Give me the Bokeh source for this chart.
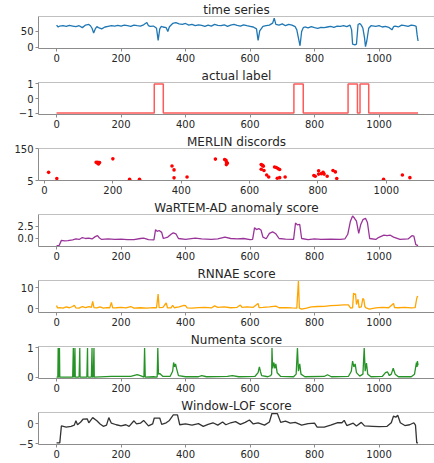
from bokeh.plotting import figure
from bokeh.layouts import column
from bokeh.models import FixedTicker, LinearAxis, Range1d, PrintfTickFormatter
from bokeh.embed import file_html
from bokeh.resources import INLINE

x_ticks = [0, 200, 400, 600, 800, 1000]

ts_data = [(0, 70), (5, 64), (10, 67), (20, 68), (30, 66), (40, 69), (50, 67), (60, 65), (70, 68),
           (80, 62), (90, 70), (100, 72), (105, 68), (110, 60), (115, 45), (120, 58), (125, 65),
           (130, 62), (140, 58), (150, 64), (160, 66), (170, 68), (180, 67), (190, 69), (200, 67),
           (210, 70), (220, 68), (230, 66), (240, 70), (250, 68), (260, 67), (270, 71), (280, 78),
           (285, 68), (290, 66), (300, 67), (305, 64), (310, 60), (315, 22), (320, 58), (325, 66),
           (330, 64), (340, 62), (345, 50), (350, 65), (360, 75), (370, 78), (380, 74), (390, 72),
           (400, 75), (410, 70), (420, 72), (430, 68), (440, 71), (450, 69), (460, 66), (470, 70),
           (480, 67), (490, 72), (500, 69), (510, 68), (520, 71), (530, 66), (540, 70), (550, 72),
           (560, 69), (570, 67), (580, 71), (590, 68), (600, 66), (610, 64), (620, 58), (625, 22),
           (630, 52), (640, 66), (650, 68), (660, 70), (670, 76), (675, 92), (680, 72), (690, 70),
           (700, 74), (710, 68), (720, 72), (730, 70), (740, 65), (745, 55), (750, 30), (755, 5),
           (760, 50), (765, 62), (770, 64), (780, 61), (790, 65), (800, 62), (810, 60), (820, 63),
           (830, 62), (840, 64), (850, 66), (860, 63), (870, 67), (880, 66), (890, 68), (900, 65),
           (910, 70), (915, 55), (918, 10), (925, 8), (930, 10), (935, 72), (940, 75), (945, 70),
           (950, 60), (955, 30), (958, 2), (962, 20), (968, 60), (975, 68), (990, 66), (1000, 68),
           (1010, 64), (1020, 66), (1030, 63), (1040, 55), (1045, 65), (1050, 67), (1060, 64),
           (1070, 70), (1080, 68), (1090, 66), (1100, 70), (1110, 68), (1115, 66), (1118, 40),
           (1121, 20)]

label_length = 1121
label_windows = [(303, 331), (736, 765), (904, 933), (941, 968)]

merlin_x = [12, 36, 151, 154, 158, 161, 156, 200, 249, 278, 373, 379, 379, 417, 500, 527, 531, 533,
            535, 532, 634, 638, 640, 634, 642, 650, 656, 673, 678, 683, 688, 681, 688, 704, 788, 792,
            802, 802, 810, 815, 818, 827, 844, 851, 855, 992, 1047, 1069]
merlin_y = [42, 14, 88, 84, 80, 86, 87, 103, 11, 11, 71, 53, 17, 21, 102, 100, 96, 88,
            83, 77, 77, 74, 70, 56, 50, 30, 21, 66, 64, 59, 55, 15, 18, 21, 28, 24,
            49, 34, 36, 42, 34, 24, 50, 44, 14, 11, 30, 18]

wartem_data = [(0, -1.6), (8, -1.6), (15, -0.5), (25, -0.6), (35, -0.55), (50, -0.4), (60, -0.2),
               (70, -0.3), (80, 0.1), (90, -0.1), (100, 0.0), (110, -0.2), (120, 0.3), (127, 0.5),
               (133, 0.0), (140, -0.3), (160, -0.2), (180, -0.3), (200, -0.25), (220, -0.35),
               (240, -0.35), (260, -0.1), (270, 0.0), (285, -0.35), (302, -0.4), (307, 1.8),
               (312, 1.4), (318, 1.6), (326, 1.2), (331, -0.1), (345, 0.2), (355, 0.8), (362, 1.1),
               (370, 0.9), (378, -0.1), (400, -0.3), (430, 0.0), (450, -0.2), (480, -0.3),
               (500, -0.2), (522, 0.2), (540, -0.1), (560, -0.2), (580, -0.1), (600, -0.35),
               (608, -0.3), (614, 2.2), (620, 1.8), (627, 2.0), (634, 1.7), (640, 0.2), (650, -0.15),
               (660, 1.0), (670, 1.3), (680, 0.9), (690, -0.1), (710, -0.25), (735, -0.3), (741, 3.2),
               (747, 2.8), (754, 2.9), (760, -0.1), (780, -0.35), (800, -0.2), (820, -0.3),
               (850, -0.25), (880, -0.3), (894, -0.2), (903, 0.8), (911, 3.5), (918, 4.7), (924, 4.2),
               (930, 3.6), (937, 1.0), (943, 2.8), (950, 3.9), (958, 4.2), (964, 3.3), (971, -0.1),
               (990, -0.3), (998, 0.1), (1015, 0.6), (1025, 0.5), (1035, 0.6), (1045, 0.2),
               (1065, -0.3), (1090, -0.2), (1102, 0.5), (1108, 0.4), (1114, -1.4), (1121, -1.6)]

rnnae_data = [(0, 1.5), (3, 0.3), (10, 0.5), (20, 0.2), (30, 0.8), (40, 0.4), (50, 1.0), (55, 1.6),
              (60, 0.3), (70, 0.2), (80, 1.0), (90, 0.5), (100, 1.0), (108, 0.6), (112, 3.5),
              (116, 0.5), (125, 0.3), (135, 0.8), (145, 0.2), (155, 0.5), (165, 0.4), (170, 3.0),
              (174, 0.3), (185, 0.4), (200, 0.6), (215, 0.3), (230, 1.0), (240, 0.2), (260, 0.4),
              (280, 0.2), (300, 0.5), (310, 0.4), (315, 7.0), (318, 0.5), (330, 0.6), (340, 2.7),
              (344, 0.4), (355, 0.3), (360, 1.6), (365, 0.4), (380, 0.8), (395, 1.5), (400, 1.4),
              (405, 0.3), (420, 0.2), (440, 0.5), (460, 0.6), (480, 0.3), (490, 1.3), (500, 0.6),
              (520, 0.8), (540, 0.4), (560, 0.6), (570, 1.7), (575, 0.6), (590, 0.8), (610, 0.6),
              (625, 2.5), (628, 0.5), (640, 0.6), (660, 0.8), (680, 1.2), (690, 0.4), (710, 0.5),
              (730, 0.3), (745, 0.2), (750, 13.3), (753, 0.2), (760, -0.3), (775, 0.2), (790, 0.8),
              (810, 1.0), (830, 1.1), (850, 1.4), (870, 1.6), (890, 1.8), (905, 1.8), (912, 0.2),
              (918, 0.4), (921, 7.5), (924, 6.8), (927, 7.2), (930, 2.0), (935, 4.5), (938, 0.5),
              (945, 0.8), (950, 5.0), (953, 4.2), (956, 1.0), (960, 0.3), (970, -0.3), (990, 0.3),
              (1010, 0.6), (1030, 0.4), (1045, 2.5), (1048, 0.5), (1060, 0.4), (1080, 0.6),
              (1100, 0.3), (1112, 0.5), (1117, 5.0), (1119, 5.8), (1121, 6.0)]

numenta_data = [(0, 0), (4, 0), (5, 1), (6, 0), (8, 0), (9, 1), (10, 0),
                (50, 0), (52, 1), (53, 0), (55, 0), (57, 1), (58, 0),
                (70, 0), (72, 1), (73, 0), (94, 0), (96, 1), (97, 0),
                (108, 0), (110, 1), (111, 0), (114, 0), (116, 1), (117, 0),
                (170, 0.02), (230, 0.02), (250, 0.08), (262, 0.04), (271, 0.0), (273, 1), (275, 0),
                (300, 0.01), (312, 0), (314, 1), (316, 0.1), (320, 0.12), (330, 0.02),
                (352, 0.02), (360, 0.2), (363, 0.5), (366, 0.35), (369, 0.45), (372, 0.3), (378, 0.05),
                (400, 0.01), (440, 0.01), (450, 0.05), (465, 0.01), (530, 0.02), (545, 0.05),
                (565, 0.01), (615, 0.02), (625, 0.15), (629, 0.35), (632, 0.2), (636, 0.05),
                (655, 0.01), (664, 0.05), (667, 0.1), (668, 1), (670, 0.3), (674, 0.5), (677, 0.3),
                (680, 0.45), (684, 0.15), (695, 0.02), (735, 0.01), (743, 0.1), (747, 1), (750, 0.2),
                (754, 0.45), (758, 0.1), (770, 0.01), (830, 0.02), (840, 0.08), (852, 0.01),
                (905, 0.02), (914, 0.2), (918, 0.55), (922, 0.35), (926, 0.45), (930, 0.15),
                (940, 0.03), (950, 0.1), (954, 1), (957, 0.2), (961, 0.48), (965, 0.1), (975, 0.01),
                (1010, 0.02), (1020, 0.15), (1026, 0.18), (1032, 0.05), (1038, 0.1), (1044, 0.3),
                (1050, 0.1), (1060, 0.01), (1100, 0.01), (1110, 0.1), (1116, 0.5), (1118, 0.35),
                (1119, 0.55), (1121, 0.4)]

lof_data = [(0, -4.8), (10, -4.8), (15, -0.5), (30, -0.8), (45, -0.6), (55, -0.3), (60, 0.8),
            (65, -0.2), (75, 0.5), (82, 1.2), (95, 1.3), (100, 0.3), (112, 1.6), (125, 0.8),
            (135, 0.0), (145, -0.6), (155, -0.3), (162, 1.6), (170, 0.2), (185, -0.2), (200, -0.5),
            (215, -0.2), (225, -0.6), (240, 0.8), (248, 0.0), (260, 0.2), (270, 0.9), (285, -0.5),
            (298, 0.0), (303, 1.5), (320, 1.5), (326, -0.1), (340, 0.3), (350, 0.9), (362, 2.3),
            (375, 2.3), (382, -0.2), (400, 0.0), (420, -0.3), (440, 0.1), (455, -0.6), (470, -0.1),
            (485, 0.3), (500, -0.3), (515, 0.5), (525, -0.2), (540, 0.3), (555, 0.6), (570, -0.1),
            (585, 0.4), (598, 1.0), (610, 0.0), (625, 0.3), (645, -0.3), (660, 0.5), (668, 2.7),
            (685, 2.6), (695, 0.4), (710, 0.7), (725, 0.2), (740, 0.4), (760, -0.3), (780, 0.1),
            (800, 0.2), (808, -0.8), (830, -0.8), (850, -0.3), (870, 0.3), (885, 0.3), (892, 0.9),
            (900, -0.4), (920, 0.2), (930, -0.5), (945, 0.4), (955, -0.5), (980, -0.6), (1000, -0.7),
            (1025, -0.6), (1038, 0.3), (1045, 2.0), (1052, 1.7), (1058, 2.2), (1066, 0.3),
            (1080, -0.4), (1095, -0.2), (1108, 0.3), (1113, -0.3), (1117, -4.8), (1121, -4.8)]

FONT = "DejaVu Sans"
TXT = "#262626"
SPINE = "#8c8c8c"
TOP = "#c0c0c0"
MAIN_X = (-56, 1172)
MERLIN_XR = (-17.6, 1141)


def panel(title, xr, yr, yticks, bottom=18, overrides=None, fmt=None):
    p = figure(frame_width=396, frame_height=32, x_range=Range1d(*xr), y_range=Range1d(*yr),
               output_backend="svg", toolbar_location=None, min_border_left=38,
               min_border_right=0, min_border_top=0, min_border_bottom=bottom,
               outline_line_color=None, background_fill_color="white")
    p.grid.visible = False
    p.title.text = title
    p.title.text_font = FONT
    p.title.text_font_size = "12px"
    p.title.text_font_style = "normal"
    p.title.text_color = TXT
    p.title.align = "center"
    p.title.standoff = 0
    xa = p.below[0]
    ya = p.left[0]
    for ax, ticks in ((xa, x_ticks), (ya, yticks)):
        ax.ticker = FixedTicker(ticks=ticks)
        ax.minor_tick_line_color = None
        ax.major_tick_out = 3
        ax.major_tick_in = 0
        ax.major_tick_line_color = SPINE
        ax.axis_line_color = SPINE
        ax.major_label_text_font = FONT
        ax.major_label_text_font_size = "10px"
        ax.major_label_text_color = TXT
        ax.major_label_standoff = 2
    if overrides:
        ya.major_label_overrides = overrides
    if fmt:
        ya.formatter = PrintfTickFormatter(format=fmt)
    top = LinearAxis(ticker=FixedTicker(ticks=[]), axis_line_color=TOP,
                     major_tick_line_color=None, minor_tick_line_color=None,
                     major_label_text_font_size="0px", major_tick_out=0, minor_tick_out=0,
                     major_label_standoff=0)
    p.add_layout(top, "above")
    return p


def xy(data):
    return [d[0] for d in data], [d[1] for d in data]


figs = []

p1 = panel("time series", MAIN_X, (-3.6, 97), [0, 50])
x, y = xy(ts_data)
p1.line(x, y, line_color="#1f77b4", line_width=1.3)
figs.append(p1)

p2 = panel("actual label", MAIN_X, (-1.1, 1.1), [-1, 0, 1], overrides={-1: "\u22121"})
lx, ly = [0], [-1]
for s, e in label_windows:
    lx += [s, s, e, e]
    ly += [-1, 1, 1, -1]
lx.append(label_length)
ly.append(-1)
p2.line(lx, ly, line_color="red", line_alpha=0.65, line_width=1.5)
figs.append(p2)

p3 = panel("MERLIN discords", MERLIN_XR, (5, 150), [5, 150])
p3.scatter(merlin_x, merlin_y, size=3.6, fill_color="red", line_color=None)
figs.append(p3)

p4 = panel("WaRTEM-AD anomaly score", MAIN_X, (-1.8, 5.0), [0, 2.5], fmt="%.1f")
x, y = xy(wartem_data)
p4.line(x, y, line_color="purple", line_alpha=0.8, line_width=1.3)
figs.append(p4)

p5 = panel("RNNAE score", MAIN_X, (-1.9, 13.6), [0, 10])
x, y = xy(rnnae_data)
p5.line(x, y, line_color="orange", line_width=1.3)
figs.append(p5)

p6 = panel("Numenta score", MAIN_X, (-0.05, 1.05), [0, 1])
x, y = xy(numenta_data)
p6.line(x, y, line_color="green", line_alpha=0.85, line_width=1.3)
figs.append(p6)

p7 = panel("Window-LOF score", MAIN_X, (-5.2, 2.9), [-5, 0], bottom=0, overrides={-5: "\u22125"})
x, y = xy(lof_data)
p7.line(x, y, line_color="black", line_alpha=0.8, line_width=1.3)
figs.append(p7)

layout = column(*figs, spacing=0)
open("out.html", "w").write(file_html(layout, INLINE))
